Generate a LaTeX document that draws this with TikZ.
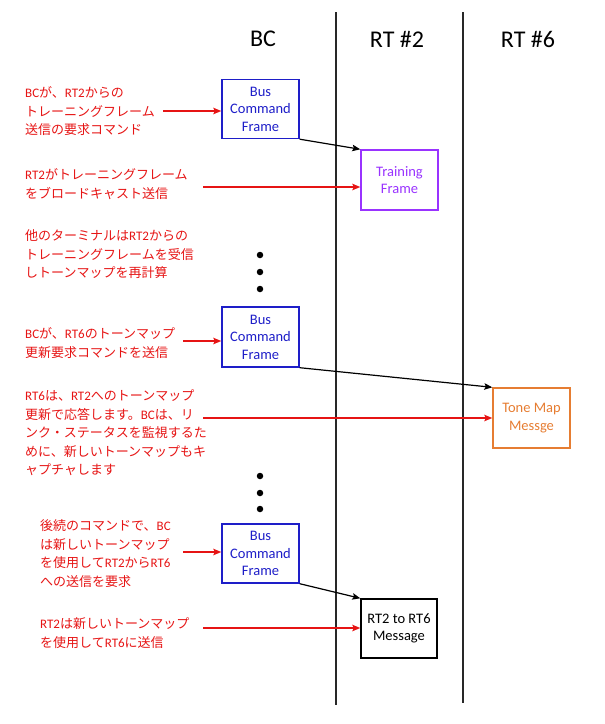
\documentclass[tikz,border=0pt]{standalone}
\usepackage{fontspec}
\setmainfont{Carlito}
\newfontfamily\jp{Noto Sans CJK JP}
\newfontfamily\lat{Carlito}
\usetikzlibrary{arrows.meta}
\definecolor{myred}{RGB}{230,20,20}
\definecolor{myblue}{RGB}{30,30,200}
\definecolor{mypurple}{RGB}{153,51,255}
\definecolor{myorange}{RGB}{230,125,50}
\definecolor{lanegray}{RGB}{40,40,40}
\tikzset{
  box/.style={draw, line width=1.4pt, minimum width=77pt, minimum height=59pt, inner sep=0pt,
    align=center, font=\lat\fontsize{14.5}{17.5}\selectfont},
  jtext/.style={text=myred, align=left, inner sep=0pt, anchor=north west,
    font=\jp\fontsize{13}{18.5}\selectfont},
  hdr/.style={font=\lat\fontsize{24}{28}\selectfont, inner sep=0pt},
  blk/.style={-{Stealth[length=8pt,width=6.5pt,inset=1.5pt]}, line width=1.2pt, black},
  redarrow/.style={-{Stealth[length=8pt,width=6.5pt,inset=1.5pt]}, line width=1.4pt, myred},
  dot/.style={circle, fill=black, inner sep=0pt, minimum size=6.5pt},
  lane/.style={line width=1.2pt, lanegray}
}
\begin{document}
\begin{tikzpicture}[x=1pt,y=-1pt]
\useasboundingbox (0,0) rectangle (605,724);
% lanes
\coordinate (l1t) at (336,12); \coordinate (l1b) at (336,705);
\coordinate (l2t) at (463,12); \coordinate (l2b) at (463,703);
\draw[lane] (l1t) -- (l1b);
\draw[lane] (l2t) -- (l2b);
% headers
\node[hdr] (hbc) at (263,39) {BC};
\node[hdr] (hrt2) at (397,39) {RT \#2};
\node[hdr] (hrt6) at (528,39) {RT \#6};
% boxes
\node[box, draw=myblue, text=myblue] (bcf1) at (260.5,109) {Bus\\Command\\Frame};
\node[box, draw=mypurple, text=mypurple, minimum height=60pt] (tf) at (399.5,180) {Training\\Frame};
\node[box, draw=myblue, text=myblue, minimum height=60pt] (bcf2) at (260.5,337) {Bus\\Command\\Frame};
\node[box, draw=myorange, text=myorange, minimum height=60pt] (tm) at (531.5,418) {Tone Map\\Messge};
\node[box, draw=myblue, text=myblue] (bcf3) at (260.5,553.5) {Bus\\Command\\Frame};
\node[box, draw=black, text=black, minimum width=76pt] (msg) at (399,628.5) {RT2 to RT6\\Message};
% dots
\node[dot] (d1) at (260,255) {};
\node[dot] (d2) at (260,272) {};
\node[dot] (d3) at (260,289) {};
\node[dot] (d4) at (260,476) {};
\node[dot] (d5) at (260,493) {};
\node[dot] (d6) at (260,509) {};
% black arrows
\draw[blk] (bcf1.south east) -- (tf.north west);
\draw[blk] (bcf2.south east) -- (tm.north west);
\draw[blk] (bcf3.south east) -- (msg.north west);
% texts
\node[jtext] (t1) at (25,86.5) {{\lat BC}が、{\lat RT2}からの\\トレーニングフレーム\\送信の要求コマンド};
\node[jtext] (t2) at (25,168.5) {{\lat RT2}がトレーニングフレーム\\をブロードキャスト送信};
\node[jtext] (t3) at (25,229.5) {他のターミナルは{\lat RT2}からの\\トレーニングフレームを受信\\しトーンマップを再計算};
\node[jtext] (t4) at (25,327.5) {{\lat BC}が、{\lat RT6}のトーンマップ\\更新要求コマンドを送信};
\node[jtext] (t5) at (25,389.5) {{\lat RT6}は、{\lat RT2}へのトーンマップ\\更新で応答します。{\lat BC}は、リ\\ンク・ステータスを監視するた\\めに、新しいトーンマップもキ\\ャプチャします};
\node[jtext] (t6) at (40,519.5) {後続のコマンドで、{\lat BC}\\は新しいトーンマップ\\を使用して{\lat RT2}から{\lat RT6}\\への送信を要求};
\node[jtext] (t7) at (40,617.5) {{\lat RT2}は新しいトーンマップ\\を使用して{\lat RT6}に送信};
% red arrows
\coordinate (r1) at (163,111);
\coordinate (r2) at (203,187);
\coordinate (r3) at (183,341);
\coordinate (r4) at (203,418);
\coordinate (r5) at (183,552);
\coordinate (r6) at (203,628);
\draw[redarrow] (r1) -- (r1 -| bcf1.west);
\draw[redarrow] (r2) -- (r2 -| tf.west);
\draw[redarrow] (r3) -- (r3 -| bcf2.west);
\draw[redarrow] (r4) -- (r4 -| tm.west);
\draw[redarrow] (r5) -- (r5 -| bcf3.west);
\draw[redarrow] (r6) -- (r6 -| msg.west);
\end{tikzpicture}
\end{document}
